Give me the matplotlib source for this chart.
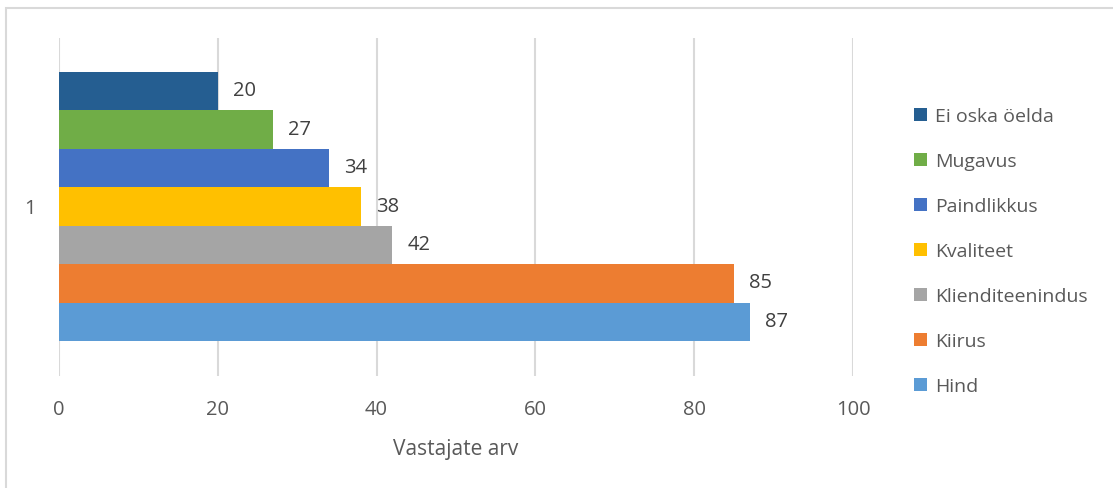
import matplotlib.pyplot as plt
from matplotlib.patches import Rectangle, Patch

plt.rcParams['font.family'] = ['Open Sans', 'DejaVu Sans']

# series from bottom to top
series = ['Hind', 'Kiirus', 'Klienditeenindus', 'Kvaliteet', 'Paindlikkus', 'Mugavus', 'Ei oska öelda']
values = [87, 85, 42, 38, 34, 27, 20]
colors = ['#5B9BD5', '#ED7D31', '#A5A5A5', '#FFC000', '#4472C4', '#70AD47', '#255E91']
category = '1'
xticks = [0, 20, 40, 60, 80, 100]

fig = plt.figure(figsize=(11.13, 4.88), dpi=100)
W, H = 1113, 488

# light chart border (left and top edges only visible)
fig.patches.append(Rectangle((5.5 / W, -0.1), 1.2, (488 - 7.5) / H + 0.1,
                             transform=fig.transFigure, fill=False,
                             edgecolor='#d9d9d9', linewidth=1.5))

ax = fig.add_axes([59 / W, 1 - 376 / H, (853 - 59) / W, (376 - 38) / H])

pos = list(range(len(series)))
ax.barh(pos, values, height=1.0, color=colors, zorder=2)
for p, v in zip(pos, values):
    ax.text(v + 1.9, p, str(v), va='center', ha='left', fontsize=14.5, color='#404040')

ax.set_xlim(0, 100)
ax.set_ylim(-1.41, 7.385)
ax.set_xticks(xticks)
ax.set_xticklabels([str(t) for t in xticks], fontsize=14.5, color='#595959')
ax.tick_params(axis='x', length=0, pad=17)
ax.set_yticks([3])
ax.set_yticklabels([category], fontsize=14.5, color='#595959')
ax.tick_params(axis='y', length=0, pad=17)
ax.grid(axis='x', color='#d9d9d9', linewidth=1.5, zorder=0)
for s in ax.spines.values():
    s.set_visible(False)
ax.set_xlabel('Vastajate arv', fontsize=15, color='#595959', labelpad=14)

handles = [Patch(facecolor=c) for c in colors[::-1]]
fig.legend(handles, series[::-1], loc='upper left', bbox_to_anchor=(897 / W, 1 - 90 / H),
           frameon=False, fontsize=14, labelspacing=1.39, handlelength=0.65,
           handleheight=0.65, handletextpad=0.4, labelcolor='#595959')

fig.savefig('out.png', dpi=100)
